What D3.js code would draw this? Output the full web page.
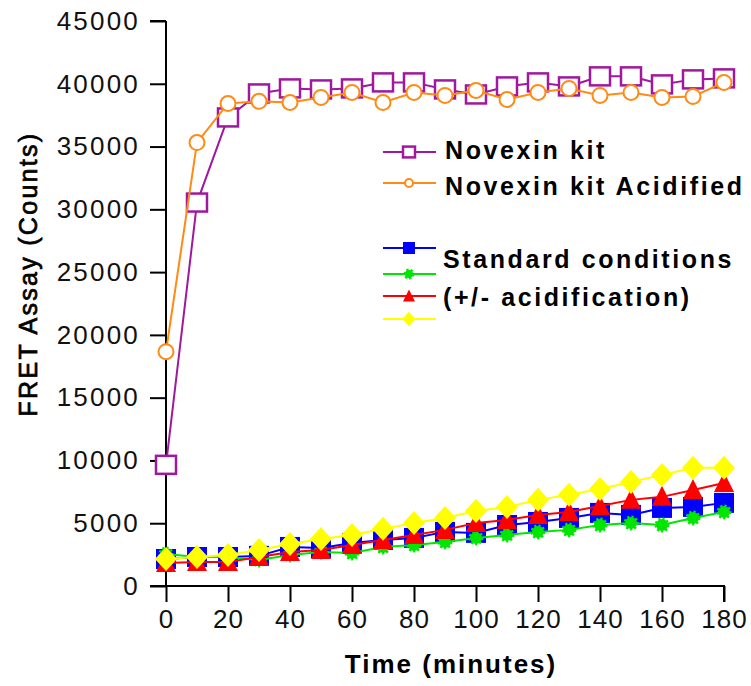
<!DOCTYPE html>
<html>
<head>
<meta charset="utf-8">
<script src="https://cdn.jsdelivr.net/npm/d3@7"></script>
<style>
  body { margin: 0; background: #fff; }
  svg { display: block; }
</style>
</head>
<body>
<div id="chart"></div>
<script>
// time points (minutes)
const times = [0, 10, 20, 30, 40, 50, 60, 70, 80, 90, 100, 110, 120, 130, 140, 150, 160, 170, 180];

// series values
const novexin     = [9650, 30540, 37320, 39230, 39630, 39550, 39630, 40110, 40110, 39550, 39150, 39790, 40110, 39790, 40590, 40590, 39950, 40350, 40430];
const novexinAcid = [18660, 35320, 38430, 38600, 38510, 38910, 39310, 38510, 39310, 39070, 39470, 38750, 39310, 39630, 39070, 39310, 38910, 38990, 40110];
const stdBlue     = [2150, 2310, 2310, 2400, 3110, 3030, 3430, 3670, 3830, 4310, 4230, 4860, 5100, 5420, 5820, 5660, 6220, 6300, 6620];
const stdGreen    = [2550, 2310, 2310, 2070, 2470, 2710, 2630, 3110, 3270, 3510, 3830, 4070, 4310, 4470, 4860, 5020, 4860, 5420, 5900];
const stdRed      = [1830, 1910, 1910, 2310, 2710, 2870, 3270, 3670, 4070, 4470, 5020, 5260, 5660, 5900, 6380, 6860, 7100, 7650, 8210];
const stdYellow   = [2150, 2310, 2470, 2870, 3350, 3750, 4070, 4550, 5020, 5420, 5980, 6300, 6860, 7260, 7730, 8290, 8850, 9410, 9410];

const xTicks = [0, 20, 40, 60, 80, 100, 120, 140, 160, 180];
const yTicks = [0, 5000, 10000, 15000, 20000, 25000, 30000, 35000, 40000, 45000];
const legendLabels = ["Novexin kit", "Novexin kit Acidified", "Standard conditions", "(+/- acidification)"];

const width = 751;
const height = 686;
const font = 'Liberation Sans, Arial, sans-serif';

// series definitions (draw order: purple, orange, blue, green, red, yellow)
const series = [
  { values: novexin,     color: '#a0189e', marker: 'openSquare' },
  { values: novexinAcid, color: '#ff8a14', marker: 'openCircle' },
  { values: stdBlue,     color: '#0000ff', marker: 'square' },
  { values: stdGreen,    color: '#00e600', marker: 'sun' },
  { values: stdRed,      color: '#ff0000', marker: 'triangle' },
  { values: stdYellow,   color: '#ffff00', marker: 'diamond' }
];

const svg = d3.select('#chart')
  .append('svg')
  .attr('width', width)
  .attr('height', height);

const x = d3.scaleLinear().domain([0, 180]).range([166, 724]);
const y = d3.scaleLinear().domain([0, 45000]).range([586, 21]);

// axes
const yAxis = (g) => {
  g.attr('transform', 'translate(166,0)')
    .call(d3.axisLeft(y).tickValues(yTicks).tickSize(16).tickPadding(10).tickFormat(d3.format('d')))
    .attr('font-family', font)
    .attr('font-size', '26px');
  g.selectAll('path, line').attr('stroke', '#000').attr('stroke-width', 2);
  g.select('.domain').attr('d', 'M0,' + y(45000) + 'H-16M0,' + y(45000) + 'V' + y(0));
  g.selectAll('text').attr('fill', '#111').attr('letter-spacing', '2.2px');
};
const xAxis = (g) => {
  g.attr('transform', 'translate(0,586)')
    .call(d3.axisBottom(x).tickValues(xTicks).tickSize(16).tickPadding(8))
    .attr('font-family', font)
    .attr('font-size', '26px');
  g.selectAll('path, line').attr('stroke', '#000').attr('stroke-width', 2);
  g.select('.domain').attr('d', 'M150,0H' + x(180) + 'V16');
  g.selectAll('text').attr('fill', '#111').attr('letter-spacing', '1px');
};

svg.append('g').call(xAxis);
svg.append('g').call(yAxis);

// axis titles
svg.append('text')
  .attr('x', 451).attr('y', 673)
  .attr('text-anchor', 'middle')
  .attr('font-family', font)
  .attr('font-weight', 'bold')
  .attr('font-size', '26px')
  .attr('letter-spacing', '2px')
  .text('Time (minutes)');

svg.append('text')
  .attr('transform', 'translate(37,274) rotate(-90)')
  .attr('text-anchor', 'middle')
  .attr('font-family', font)
  .attr('font-size', '25px')
  .attr('letter-spacing', '2.3px')
  .attr('stroke', '#000')
  .attr('stroke-width', 0.7)
  .text('FRET Assay (Counts)');

// marker drawing
function drawMarker(sel, type, color, big) {
  const s = big ? 1 : 0.6;
  if (type === 'openSquare') {
    sel.append('rect').attr('x', -10 * s).attr('y', -9 * s).attr('width', 20 * s).attr('height', 18 * s)
      .attr('fill', '#fff').attr('stroke', color).attr('stroke-width', 2.5);
  } else if (type === 'openCircle') {
    sel.append('circle').attr('r', big ? 7.5 : 4)
      .attr('fill', '#fff').attr('stroke', color).attr('stroke-width', 2);
  } else if (type === 'square') {
    sel.append('rect').attr('x', -10 * s).attr('y', -10 * s).attr('width', 20 * s).attr('height', 20 * s)
      .attr('fill', color);
  } else if (type === 'sun') {
    sel.append('circle').attr('r', big ? 6 : 4).attr('fill', color)
      .attr('stroke', color).attr('stroke-width', 3).attr('stroke-dasharray', '2,2');
  } else if (type === 'triangle') {
    sel.append('path').attr('d', `M0,${-11 * s}L${10 * s},${9 * s}L${-10 * s},${9 * s}Z`).attr('fill', color);
  } else if (type === 'diamond') {
    sel.append('path').attr('d', `M0,${-12 * s}L${11 * s},0L0,${12 * s}L${-11 * s},0Z`).attr('fill', color);
  }
}

const line = d3.line().x((d, i) => x(times[i])).y(d => y(d));

const plot = svg.append('g');
series.forEach(s => {
  const g = plot.append('g');
  g.append('path')
    .datum(s.values)
    .attr('d', line)
    .attr('fill', 'none')
    .attr('stroke', s.color)
    .attr('stroke-width', 2);
  g.selectAll('g.pt')
    .data(s.values)
    .join('g')
    .attr('class', 'pt')
    .attr('transform', (d, i) => `translate(${x(times[i])},${y(d)})`)
    .each(function () { drawMarker(d3.select(this), s.marker, s.color, true); });
});

// legend
const legendRows = [152, 183, 248, 274, 296, 319];
const legend = svg.append('g');
series.forEach((s, i) => {
  const g = legend.append('g').attr('transform', `translate(409,${legendRows[i]})`);
  g.append('line').attr('x1', -26).attr('x2', 27)
    .attr('stroke', s.color).attr('stroke-width', 2);
  drawMarker(g, s.marker, s.color, false);
});

const legendText = [[445, 159], [445, 195], [443, 268], [443, 306]];
legendLabels.forEach((t, i) => {
  legend.append('text')
    .attr('x', legendText[i][0]).attr('y', legendText[i][1])
    .attr('font-family', font)
    .attr('font-weight', 'bold')
    .attr('font-size', '25px')
    .attr('letter-spacing', '2.6px')
    .attr('fill', '#000')
    .text(t);
});
</script>
</body>
</html>
